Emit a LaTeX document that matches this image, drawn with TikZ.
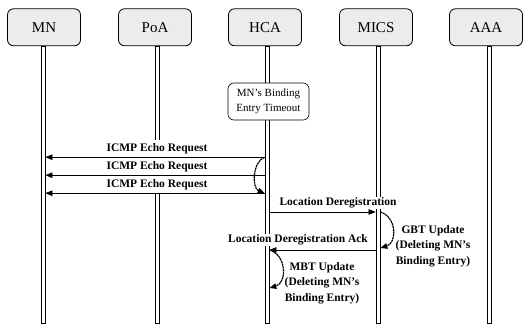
\documentclass[tikz,border=0pt]{standalone}
\usepackage{fontspec}
\setmainfont{Liberation Serif}
\usetikzlibrary{arrows.meta}
\tikzset{
  actor/.style={draw, fill=gray!15, rounded corners=6pt, minimum width=73pt, minimum height=37pt, inner sep=0pt, line width=0.8pt, font=\fontsize{15}{17}\selectfont},
  life/.style={draw, fill=white, line width=0.7pt, minimum width=4pt, inner sep=0pt, anchor=north},
  note/.style={draw, fill=white, rounded corners=6pt, minimum width=81pt, minimum height=37pt, inner sep=1pt, line width=0.6pt, align=center, font=\fontsize{11}{14.5}\selectfont},
  lbl/.style={fill=white, inner sep=1pt, font=\bfseries\fontsize{11.5}{15.5}\selectfont},
  txt/.style={inner sep=1pt, align=center, font=\bfseries\fontsize{11.5}{15.5}\selectfont},
  msg/.style={-{Triangle[length=7pt,width=5.5pt]}, line width=0.6pt},
  selfloop/.style={-{Triangle[length=7pt,width=5.5pt]}, line width=1.2pt, dash pattern=on 2.2pt off 0.6pt}
}
\begin{document}
\begin{tikzpicture}[x=1pt,y=-1pt]
\useasboundingbox (0,0) rectangle (526,324);
% lifelines
\node[life, minimum height=277pt] (lMN) at (43,46) {};
\node[life, minimum height=277pt] (lPoA) at (157,46) {};
\node[life, minimum height=277pt] (lHCA) at (267,46) {};
\node[life, minimum height=277pt] (lMICS) at (378,46) {};
\node[life, minimum height=277pt] (lAAA) at (489,46) {};
% actors
\node[actor] (MN) at (44,27.3) {MN};
\node[actor] (PoA) at (155,27.3) {PoA};
\node[actor] (HCA) at (265,27.3) {HCA};
\node[actor] (MICS) at (376,27.3) {MICS};
\node[actor] (AAA) at (486,27.3) {AAA};
% timeout note
\node[note] (tmo) at (268.5,101.5) {MN’s Binding\\Entry Timeout};
% ICMP labels
\node[lbl, minimum height=17pt] (l1) at (157,148.5) {ICMP Echo Request};
\node[lbl, minimum height=17pt] (l2) at (157,166.5) {ICMP Echo Request};
\node[lbl, minimum height=17pt] (l3) at (157,184.5) {ICMP Echo Request};
% ICMP arrows
\draw[msg] (lHCA.west |- l1.south) -- (lMN.east |- l1.south);
\draw[msg] (lHCA.west |- l2.south) -- (lMN.east |- l2.south);
\draw[msg] (lHCA.west |- l3.south) -- (lMN.east |- l3.south);
\coordinate (h1) at (lHCA.west |- l1.south);
\coordinate (h3) at (lHCA.west |- l3.south);
\draw[selfloop] (h1) .. controls (252,162) and (252,188) .. (h3);
% Location deregistration
\node[lbl] (ld) at (338,203) {Location Deregistration};
\coordinate (ldA) at (lHCA.east |- 0,212);
\coordinate (ldB) at (lMICS.west |- 0,212);
\draw[msg] (ldA) -- (ldB);
% GBT update
\coordinate (g1) at (lMICS.east |- 0,212);
\coordinate (g2) at (lMICS.east |- 0,248);
\draw[selfloop] (g1) .. controls (397,217) and (397,243) .. (g2);
\node[txt] (gbt) at (433,246) {GBT Update\\(Deleting MN’s\\Binding Entry)};
% Ack
\node[lbl] (ack) at (298,240) {Location Deregistration Ack};
\coordinate (akA) at (lMICS.west |- 0,250);
\coordinate (akB) at (lHCA.east |- 0,250);
\draw[msg] (akA) -- (akB);
% MBT update
\coordinate (m1) at (lHCA.east |- 0,250);
\coordinate (m2) at (lHCA.east |- 0,288);
\draw[selfloop] (m1) .. controls (287,255) and (287,283) .. (m2);
\node[txt] (mbt) at (322,283) {MBT Update\\(Deleting MN’s\\Binding Entry)};
\end{tikzpicture}
\end{document}
